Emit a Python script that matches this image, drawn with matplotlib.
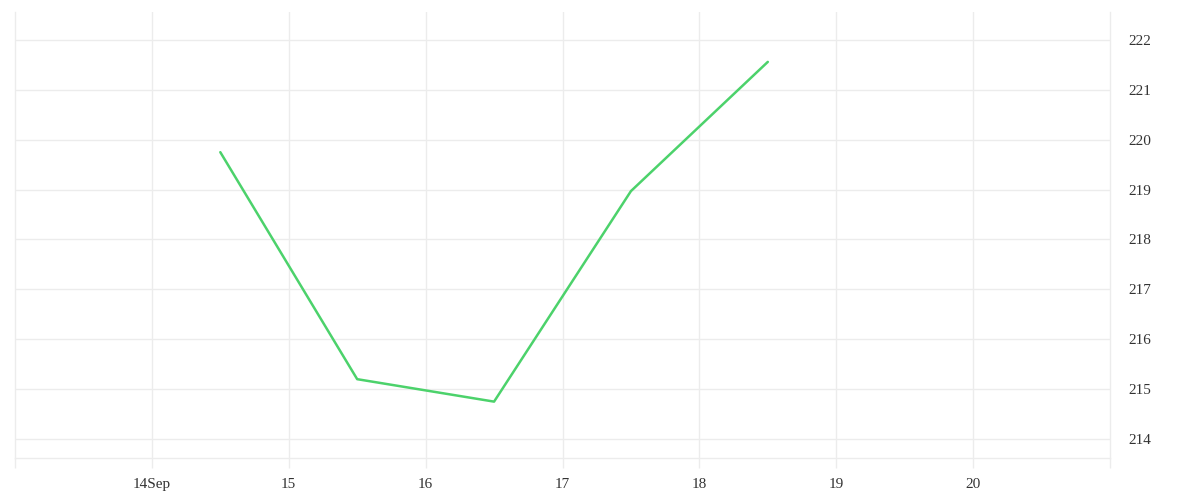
import datetime as dt
import matplotlib
matplotlib.use("Agg")
import matplotlib.pyplot as plt
import matplotlib.dates as mdates

dates = [dt.datetime(2023, 9, d, 12) for d in (14, 15, 16, 17, 18)]
values = [219.75, 215.2, 214.75, 218.97, 221.56]
tick_days = [dt.datetime(2023, 9, d) for d in range(14, 21)]
tick_labels = ["14Sep", "15", "16", "17", "18", "19", "20"]
y_ticks = list(range(214, 223))

plt.rcParams['font.family'] = ['Liberation Serif', 'DejaVu Serif']
grid_c = '#ececec'

fig = plt.figure(figsize=(12, 5), dpi=100)
ax = fig.add_axes([0.0125, 0.084, 0.9125, 0.892])
ax.plot(dates, values, '-', color='#4cd26b', linewidth=1.8, solid_capstyle='round')

ax.set_xlim(dt.datetime(2023, 9, 13), dt.datetime(2023, 9, 21))
ax.set_ylim(213.62, 222.56)
ax.set_xticks(tick_days)
ax.set_xticklabels(tick_labels)
ax.set_xticks([dt.datetime(2023, 9, 13), dt.datetime(2023, 9, 21)], minor=True)
ax.set_yticks(y_ticks)
ax.yaxis.tick_right()
ax.grid(True, color=grid_c, linewidth=1)

for side in ['top']:
    ax.spines[side].set_visible(False)
for side in ['left', 'right', 'bottom']:
    ax.spines[side].set_color(grid_c)
    ax.spines[side].set_linewidth(1)

ax.tick_params(axis='x', which='both', length=7.5, width=1, color=grid_c,
               labelsize=11, labelcolor='#333333', pad=7)
ax.tick_params(axis='y', length=0, labelsize=11, labelcolor='#333333', pad=13)

fig.savefig('out.png', dpi=100, facecolor='white')
